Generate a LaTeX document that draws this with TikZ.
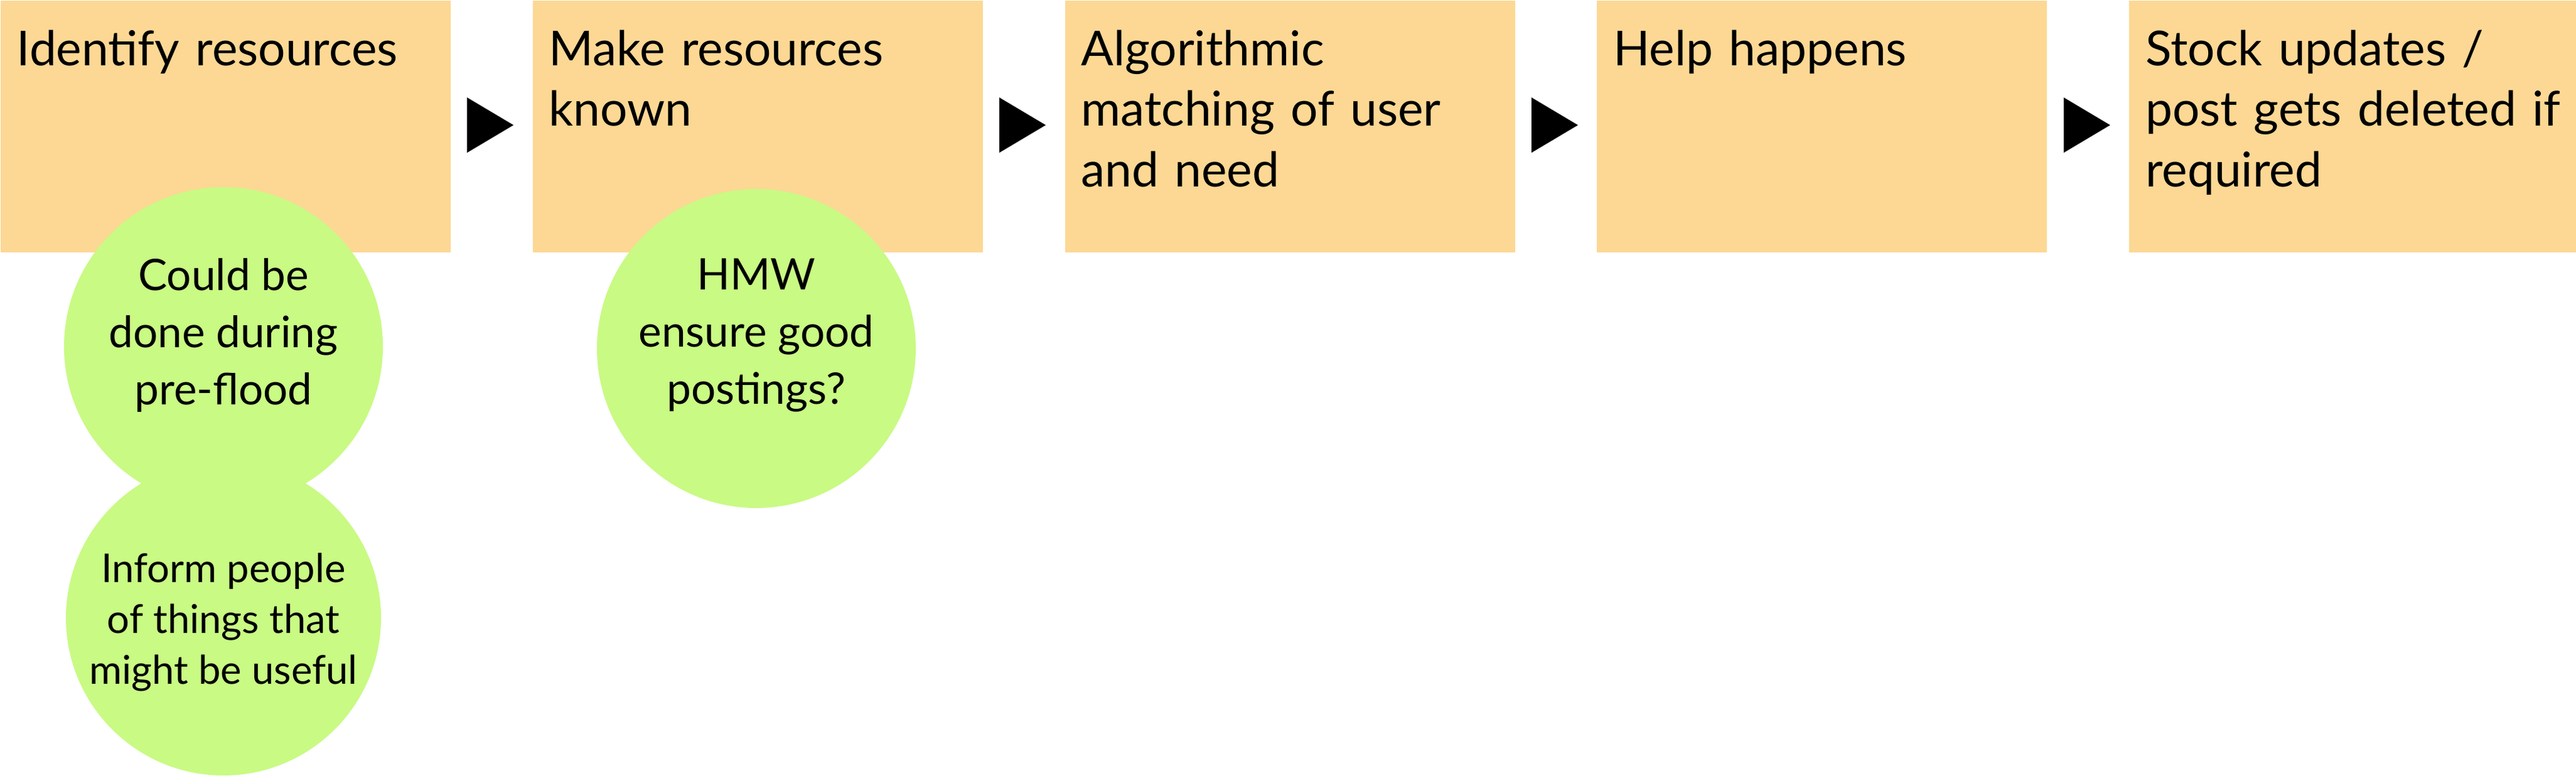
\documentclass[tikz,border=0pt]{standalone}
\usepackage{fontspec}
\setmainfont{Lato}
\usetikzlibrary{positioning, shapes.geometric, calc}
\definecolor{stickyorange}{RGB}{252,216,148}
\definecolor{ideagreen}{RGB}{201,250,132}

\begin{document}
\begin{tikzpicture}[
            stepbox/.style={fill=stickyorange, minimum width=7.17cm, minimum height=4.01cm, inner sep=0pt},
            steptext/.style={text width=6.75cm, align=left, inner sep=0pt, font=\fontsize{21.8}{27.5}\selectfont},
            ideacircle/.style={circle, fill=ideagreen, minimum size=5.08cm, inner sep=0pt},
            ideatext/.style={align=center, inner sep=0pt, font=\fontsize{19.7}{25.8}\selectfont},
            flowtip/.style={isosceles triangle, isosceles triangle stretches, fill=black, minimum height=0.74cm, minimum width=0.88cm, inner sep=0pt, anchor=west}
        ]
            \useasboundingbox (0,0) rectangle (41.04,-12.39);

            % Etapes
            \node[stepbox, anchor=north west] (identify) at (0,0) {};
            \node[stepbox, right=1.295cm of identify] (publish) {};
            \node[stepbox, right=1.295cm of publish] (match) {};
            \node[stepbox, right=1.295cm of match] (help) {};
            \node[stepbox, right=1.295cm of help] (stock) {};

            % Textes des etapes
            \node[steptext, below right=0.47cm and 0.26cm of identify.north west] (identifytext) {Identify resources};
            \node[steptext, below right=0.47cm and 0.26cm of publish.north west] (publishtext) {Make resources\\known};
            \node[steptext, below right=0.47cm and 0.26cm of match.north west] (matchtext) {Algorithmic\\matching of user\\and need};
            \node[steptext, below right=0.47cm and 0.26cm of help.north west] (helptext) {Help happens};
            \node[steptext, below right=0.47cm and 0.26cm of stock.north west] (stocktext) {Stock updates /\\post gets deleted if\\required};

            % Fleches
            \foreach \a [count=\i] in {identify, publish, match, help}
                \node[flowtip] (tip\i) at ($(\a.east)+(0.25,0.02)$) {};

            % Idees
            \node[ideacircle] (preflood) at (3.56,-5.52) {};
            \node[ideacircle, minimum size=5.02cm] (inform) at (3.56,-9.84) {};
            \node[ideacircle] (hmw) at (12.05,-5.55) {};

            \node[ideatext] (prefloodtext) at ([yshift=0.18cm]preflood.center) {Could be\\done during\\pre-flood};
            \node[ideatext, font=\fontsize{18}{23}\selectfont] (informtext) at ([yshift=-0.07cm]inform.center) {Inform people\\of things that\\might be useful};
            \node[ideatext] (hmwtext) at ([yshift=0.21cm]hmw.center) {HMW\\ensure good\\postings?};
        \end{tikzpicture}
\end{document}
